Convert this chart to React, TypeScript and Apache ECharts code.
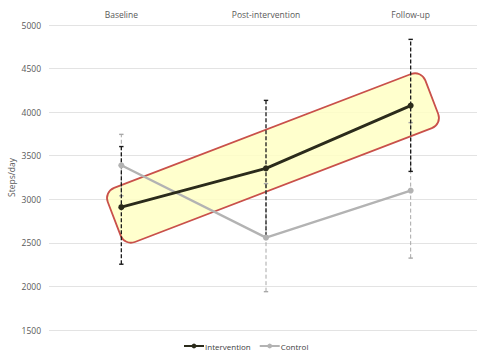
import React, { useEffect, useRef } from "react";
import * as echarts from "echarts";

const categories = ["Baseline", "Post-intervention", "Follow-up"];
const interventionMean = [2910, 3355, 4075];
const interventionLow = [2255, 2575, 3320];
const interventionHigh = [3605, 4135, 4835];
const controlMean = [3390, 2560, 3100];
const controlLow = [3040, 1940, 2325];
const controlHigh = [3745, 3180, 3880];
const yTicks = { min: 1500, max: 5000, interval: 500 };

const FONT = "'Open Sans', 'DejaVu Sans', sans-serif";

function errorSeries(name: string, low: number[], high: number[], color: string, width: number, dash: number[], z: number) {
  return {
    type: "custom",
    name,
    z,
    silent: true,
    data: low.map((l, i) => [i, l, high[i]]),
    renderItem: (params: any, api: any) => {
      const x = api.value(0);
      const lo = api.coord([x, api.value(1)]);
      const hi = api.coord([x, api.value(2)]);
      const cap = 2.2;
      return {
        type: "group",
        children: [
          { type: "line", shape: { x1: lo[0], y1: lo[1], x2: hi[0], y2: hi[1] }, style: { stroke: color, lineWidth: width, lineDash: dash } },
          { type: "line", shape: { x1: hi[0] - cap, y1: hi[1], x2: hi[0] + cap, y2: hi[1] }, style: { stroke: color, lineWidth: 1.4 } },
          { type: "line", shape: { x1: lo[0] - cap, y1: lo[1], x2: lo[0] + cap, y2: lo[1] }, style: { stroke: color, lineWidth: 1.4 } },
        ],
      };
    },
  };
}

export default function App() {
  const ref = useRef<HTMLDivElement>(null);
  useEffect(() => {
    document.body.style.margin = "0";
    const chart = echarts.init(ref.current!, null, { renderer: "svg" });
    chart.setOption({
      animation: false,
      backgroundColor: "#ffffff",
      grid: { left: 49, width: 434, top: 25, bottom: 27, outerBoundsMode: "none", containLabel: false },
      xAxis: {
        type: "category",
        position: "top",
        data: categories,
        boundaryGap: true,
        axisLine: { show: false },
        axisTick: { show: false },
        axisLabel: { color: "#595959", fontSize: 8.5, fontFamily: FONT, margin: 6 },
      },
      yAxis: {
        type: "value",
        min: yTicks.min,
        max: yTicks.max,
        interval: yTicks.interval,
        name: "Steps/day",
        nameLocation: "middle",
        nameGap: 33,
        nameMoveOverlap: false,
        nameTextStyle: { color: "#595959", fontSize: 8.5, fontFamily: FONT },
        axisLine: { show: false },
        axisTick: { show: false },
        axisLabel: { color: "#595959", fontSize: 8.5, fontFamily: FONT, margin: 8, formatter: (v: number) => String(v) },
        splitLine: { lineStyle: { color: "#e3e3e3", width: 1 } },
      },
      legend: {
        bottom: 2,
        left: 178,
        data: ["Intervention", "Control"],
        itemWidth: 20,
        itemHeight: 6,
        itemGap: 8,
        textStyle: { color: "#404040", fontSize: 8, fontFamily: FONT, padding: [0, 0, 0, -4] },
      },
      graphic: [
        {
          type: "rect",
          x: 273,
          y: 158,
          rotation: (21 * Math.PI) / 180,
          z: 1,
          shape: { x: -170, y: -29, width: 340, height: 58, r: 11 },
          style: { fill: "rgba(255,255,196,0.85)", stroke: "#c9504a", lineWidth: 1.8 },
        },
      ],
      series: [
        errorSeries("ControlErr", controlLow, controlHigh, "#a8a8a8", 1, [4, 2.5], 3),
        errorSeries("InterventionErr", interventionLow, interventionHigh, "#1a1a1a", 1.3, [4, 2], 4),
        {
          type: "line",
          name: "Control",
          data: controlMean,
          z: 5,
          symbol: "circle",
          symbolSize: 6,
          lineStyle: { color: "#b3b3b3", width: 2.4 },
          itemStyle: { color: "#b3b3b3" },
        },
        {
          type: "line",
          name: "Intervention",
          data: interventionMean,
          z: 6,
          symbol: "circle",
          symbolSize: 6,
          lineStyle: { color: "#2b2b1b", width: 2.8 },
          itemStyle: { color: "#2b2b1b" },
        },
      ],
    });
    return () => chart.dispose();
  }, []);
  return <div ref={ref} style={{ width: 477, height: 357 }} />;
}
